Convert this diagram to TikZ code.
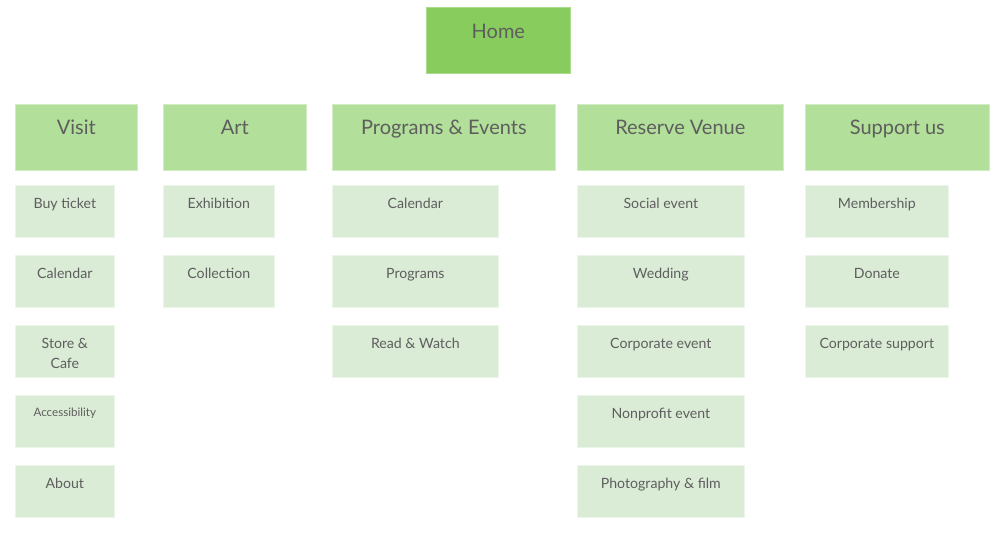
\documentclass[tikz,border=0pt]{standalone}
\usepackage{fontspec}
\setmainfont{Lato}
\usepackage{tikz}

\definecolor{homegreen}{HTML}{88CC5E}
\definecolor{catgreen}{HTML}{B2DF99}
\definecolor{subgreen}{HTML}{DAEBD6}
\definecolor{labelgray}{HTML}{5E5E5E}

\tikzset{
  box/.style={rectangle, anchor=north west, inner xsep=0pt, inner ysep=0pt,
    text=labelgray, align=center, line width=0.5pt},
  homebox/.style={box, fill=homegreen, draw=homegreen!70!white,
    minimum width=108pt, text height=23pt, text depth=26.5pt,
    font=\fontsize{15pt}{17pt}\selectfont},
  catbox/.style={box, fill=catgreen, draw=catgreen!60!white,
    text height=22.5pt, text depth=27pt,
    font=\fontsize{15pt}{17pt}\selectfont},
  subbox/.style={box, fill=subgreen, draw=subgreen!50!white,
    text height=17.5pt, text depth=21.5pt,
    font=\fontsize{10.6pt}{15pt}\selectfont},
}

\begin{document}
\begin{tikzpicture}[x=0.75pt, y=-0.75pt]
      \useasboundingbox (0,0) rectangle (1000,540);

      % top level
      \node[homebox] (home) at (426,7) {Home};

      % sections
      \node[catbox, minimum width=91.5pt]  (visit)   at (15,104)  {Visit};
      \node[catbox, minimum width=107.25pt] (art)    at (163,104) {Art};
      \node[catbox, minimum width=167.25pt] (progs)  at (332,104) {Programs \& Events};
      \node[catbox, minimum width=154.5pt]  (venue)  at (577,104) {Reserve Venue};
      \node[catbox, minimum width=138pt]    (support) at (805,104) {Support us};

      % visit
      \node[subbox, minimum width=74.25pt] (ticket)  at (15,185) {Buy ticket};
      \node[subbox, minimum width=74.25pt] (vcal)    at (15,255) {Calendar};
      \node[subbox, minimum width=74.25pt, text height=32pt, text depth=7pt]
                                           (store)   at (15,325) {Store \&\\Cafe};
      \node[subbox, minimum width=74.25pt, font=\fontsize{8.7pt}{10pt}\selectfont,
            text height=16pt, text depth=23pt]
                                           (access)  at (15,395) {Accessibility};
      \node[subbox, minimum width=74.25pt] (about)   at (15,465) {About};

      % art
      \node[subbox, minimum width=83.25pt] (exhib)   at (163,185) {Exhibition};
      \node[subbox, minimum width=83.25pt] (collect) at (163,255) {Collection};

      % programs & events
      \node[subbox, minimum width=124.5pt] (pcal)    at (332,185) {Calendar};
      \node[subbox, minimum width=124.5pt] (pprog)   at (332,255) {Programs};
      \node[subbox, minimum width=124.5pt] (read)    at (332,325) {Read \& Watch};

      % reserve venue
      \node[subbox, minimum width=125.25pt] (social) at (577,185) {Social event};
      \node[subbox, minimum width=125.25pt] (wedding) at (577,255) {Wedding};
      \node[subbox, minimum width=125.25pt] (corpev) at (577,325) {Corporate event};
      \node[subbox, minimum width=125.25pt] (nonprof) at (577,395) {Nonprofit event};
      \node[subbox, minimum width=125.25pt] (photo)  at (577,465) {Photography \& film};

      % support us
      \node[subbox, minimum width=107.25pt] (member) at (805,185) {Membership};
      \node[subbox, minimum width=107.25pt] (donate) at (805,255) {Donate};
      \node[subbox, minimum width=107.25pt] (corpsup) at (805,325) {Corporate support};
\end{tikzpicture}
\end{document}
